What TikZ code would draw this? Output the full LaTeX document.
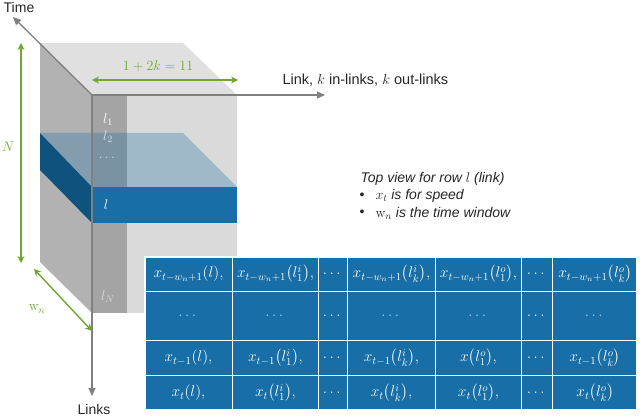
\RequirePackage{fix-cm}
\documentclass[tikz,border=0pt]{standalone}
\usepackage[no-math]{fontspec}
\setmainfont{Liberation Sans}
\usepackage{amsmath}
\usetikzlibrary{arrows.meta}
\definecolor{cubeside}{RGB}{178,178,178}
\definecolor{cubetop}{RGB}{224,224,224}
\definecolor{cubefront}{RGB}{218,218,218}
\definecolor{cubecol}{RGB}{164,164,164}
\definecolor{slabblue}{RGB}{24,110,166}
\definecolor{slabdark}{RGB}{16,82,126}
\definecolor{measgreen}{RGB}{112,165,48}
\definecolor{axisgray}{RGB}{128,128,128}
\definecolor{txtgray}{RGB}{38,38,38}

\begin{document}
\begin{tikzpicture}[
    x=1pt, y=-1pt,
    font=\fontsize{14}{17}\selectfont,
    axis/.style={-{Triangle[length=8pt,width=7pt]}, line width=1.3pt, axisgray},
    measure/.style={{Stealth[length=7pt,width=7pt]}-{Stealth[length=7pt,width=7pt]}, line width=1.4pt, measgreen},
    rowlabel/.style={text=white, inner sep=0pt},
    cell/.style={text=white, inner sep=0pt, font=\fontsize{15.5}{18}\selectfont},
    celldots/.style={cell, text=white!70!slabblue}
]
\useasboundingbox (0,0) rectangle (640,417);
%
% cube
\fill[cubeside] (40,43) -- (92,95) -- (92,313) -- (40,262) -- cycle;
\fill[cubetop] (40,43) -- (183,43) -- (237,95) -- (92,95) -- cycle;
\fill[cubefront] (92,95) rectangle (237,313);
\fill[cubecol] (92,95) rectangle (127,313);
%
% row l
\fill[slabdark] (40,133) -- (92,187) -- (92,223) -- (40,170) -- cycle;
\fill[slabblue] (92,187) rectangle (237,223);
\fill[slabblue, fill opacity=0.3] (40,133) -- (183,133) -- (237,187) -- (92,187) -- cycle;
%
\node[rowlabel] (l1) at (108,120) {$l_1$};
\node[rowlabel, text=white!80!slabblue] (l2) at (108,137) {$l_2$};
\node[rowlabel, text=white!80!slabblue] (ldots) at (108,158) {$\dots$};
\node[rowlabel] (lrow) at (106,205) {$l$};
\node[rowlabel, text=white!85!black] (lN) at (108,297) {$l_N$};
%
% axes
\coordinate (origin) at (92,95);
\coordinate (timeend) at (13,17);
\coordinate (linkend) at (325,95);
\coordinate (linksend) at (92,396);
\draw[axis] (origin) -- (timeend);
\draw[axis] (origin) -- (linkend);
\draw[axis] (origin) -- (linksend);
\node[text=txtgray] (timelbl) at (19,7) {Time};
\node[text=txtgray, anchor=west, font=\fontsize{14.5}{17}\selectfont] (linklbl) at (279,80) {Link, $k$ in-links, $k$ out-links};
\node[text=txtgray] (linkslbl) at (94,409) {Links};
%
% sizes
\coordinate (ntop) at (21,43);
\coordinate (nbot) at (21,263);
\draw[measure] (ntop) -- (nbot);
\node[text=measgreen] (nlbl) at (8,147) {$N$};
\coordinate (kleft) at (92,80);
\coordinate (kright) at (238,80);
\draw[measure] (kleft) -- (kright);
\node[text=measgreen] (klbl) at (158,66) {$1+2k=11$};
\coordinate (wtop) at (34,269);
\coordinate (wbot) at (92,331);
\draw[measure] (wtop) -- (wbot);
\node[text=measgreen] (wlbl) at (37,309) {$\mathrm{w}_n$};
%
% legend
\node[text=txtgray, anchor=west, font=\fontsize{14}{17}\selectfont\itshape] (topview) at (357,179) {Top view for row $l$ (link)};
\node[text=txtgray] (bulleta) at (362,196) {\textbullet};
\node[text=txtgray, anchor=west, font=\fontsize{14}{17}\selectfont\itshape] (speed) at (372,196) {$x_t$ is for speed};
\node[text=txtgray] (bulletb) at (362,213) {\textbullet};
\node[text=txtgray, anchor=west, font=\fontsize{14}{17}\selectfont\itshape] (window) at (372,213) {$\mathrm{w}_n$ is the time window};
%
% table
\fill[slabblue] (145,257) rectangle (637,410);
\draw[white, line width=2pt] (145,257) rectangle (637,410);
\foreach \gx in {232.5,318.5,347.5,435.5,521.5,552.5}
    \draw[white, line width=1.8pt] (\gx,257) -- (\gx,410);
\foreach \gy in {291.5,340.5,375.5}
    \draw[white, line width=1.8pt] (145,\gy) -- (637,\gy);
%
\node[cell] (r1c1) at (188.5,274) {$x_{t-w_n+1}(l),$};
\node[cell] (r1c2) at (275.5,274) {$x_{t-w_n+1}\bigl(l_1^i\bigr),$};
\node[cell] (r1c4) at (391.5,274) {$x_{t-w_n+1}\bigl(l_k^i\bigr),$};
\node[cell] (r1c5) at (478.5,274) {$x_{t-w_n+1}\bigl(l_1^o\bigr),$};
\node[cell] (r1c7) at (595,274) {$x_{t-w_n+1}\bigl(l_k^o\bigr)$};
\foreach \c/\cx in {1/188.5,2/275.5,4/391.5,5/478.5,7/595}
    \node[celldots] (r2c\c) at (\cx,316) {$\dots$};
\node[cell] (r3c1) at (188.5,358) {$x_{t-1}(l),$};
\node[cell] (r3c2) at (275.5,358) {$x_{t-1}\bigl(l_1^i\bigr),$};
\node[cell] (r3c4) at (391.5,358) {$x_{t-1}\bigl(l_k^i\bigr),$};
\node[cell] (r3c5) at (478.5,358) {$x\bigl(l_1^o\bigr),$};
\node[cell] (r3c7) at (595,358) {$x_{t-1}\bigl(l_k^o\bigr)$};
\node[cell] (r4c1) at (188.5,393) {$x_t(l),$};
\node[cell] (r4c2) at (275.5,393) {$x_t\bigl(l_1^i\bigr),$};
\node[cell] (r4c4) at (391.5,393) {$x_t\bigl(l_k^i\bigr),$};
\node[cell] (r4c5) at (478.5,393) {$x_t\bigl(l_1^o\bigr),$};
\node[cell] (r4c7) at (595,393) {$x_t\bigl(l_k^o\bigr)$};
\foreach \r/\cy in {1/274,2/316,3/358,4/393} {
    \node[cell] (r\r c3) at (333,\cy) {$\dots$};
    \node[cell] (r\r c6) at (537,\cy) {$\dots$};
}
\end{tikzpicture}
\end{document}
